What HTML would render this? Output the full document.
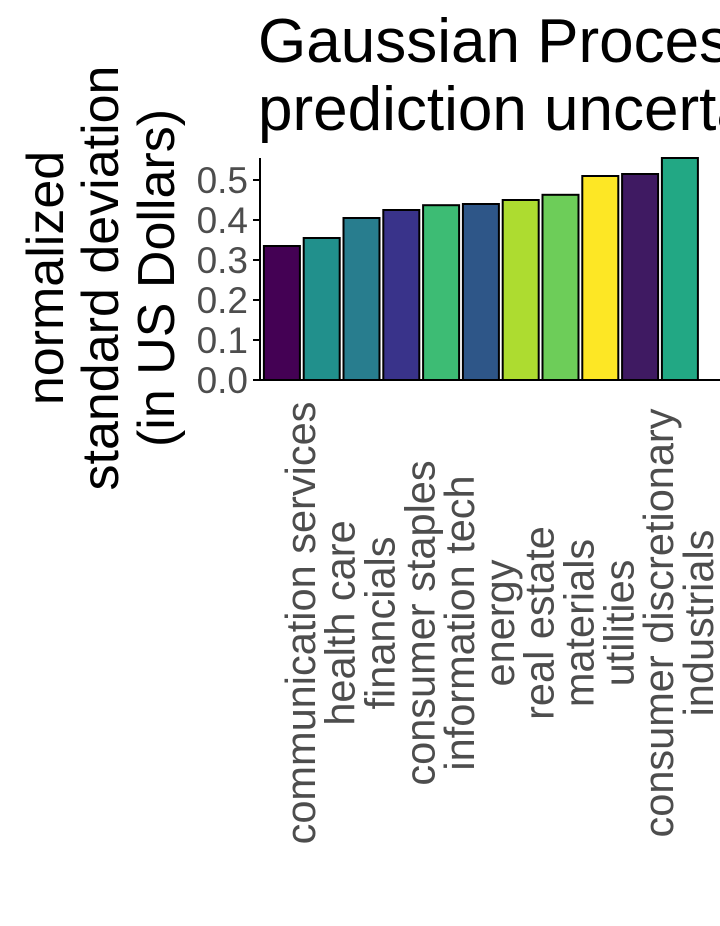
<!DOCTYPE html>
<html><head><meta charset="utf-8"><style>
body{margin:0;background:#fff;}
svg text{font-family:"Liberation Sans",Arial,sans-serif;}
</style></head><body>
<svg width="720" height="921" viewBox="0 0 720 921">
<text x="258" y="62" font-size="62" fill="#000">Gaussian Process</text>
<text x="258" y="130" font-size="62" fill="#000">prediction uncertainty</text>
<g transform="translate(100,278) rotate(-90)">
<text x="0" y="-37" font-size="52" text-anchor="middle" fill="#000">normalized</text>
<text x="0" y="18" font-size="52" text-anchor="middle" fill="#000">standard deviation</text>
<text x="0" y="74" font-size="52" text-anchor="middle" fill="#000">(in US Dollars)</text>
</g>
<g id="plot"></g>
</svg>
<script>
const categories=["communication services","health care","financials","consumer staples","information tech","energy","real estate","materials","utilities","consumer discretionary","industrials"];
const values=[0.335,0.355,0.405,0.425,0.437,0.44,0.45,0.463,0.51,0.515,0.555];
const colors=["#440154","#21908c","#287d8e","#39338a","#3dbc74","#2e5688","#addc30","#6dcd59","#fde725","#3f1a62","#22a884"];
const yTicks=[0,0.1,0.2,0.3,0.4,0.5];
const tickLabels=["0.0","0.1","0.2","0.3","0.4","0.5"];
const ns="http://www.w3.org/2000/svg";
const g=document.getElementById("plot");
const x0=262,step=39.8,bw=36,y0=380,k=400;
const X=i=>x0+step*i+step/2;
const Y=v=>y0-v*k;
function mk(t,a){const e=document.createElementNS(ns,t);for(const n in a)e.setAttribute(n,a[n]);g.appendChild(e);return e;}
values.forEach((v,i)=>{
 const r=mk("rect",{x:X(i)-bw/2,y:Y(v),width:bw,height:y0-Y(v),fill:colors[i],stroke:"#000","stroke-width":2});
 
 
 const t=mk("text",{transform:`translate(${X(i)+33},623) rotate(-90)`,"text-anchor":"middle","font-size":41.5,fill:"#4d4d4d"});
 t.textContent=categories[i];
 
 
});
yTicks.forEach((v,i)=>{
 const l=mk("line",{x1:253,x2:260,y1:Y(v),y2:Y(v),stroke:"#000","stroke-width":2});
 
 
 const t=mk("text",{x:248,y:Y(v)+13,"text-anchor":"end","font-size":37,fill:"#4d4d4d"});
 t.textContent=tickLabels[i];
 
 
});
const ya=mk("line",{x1:260,x2:260,y1:158,y2:381,stroke:"#000","stroke-width":2});


const xa=mk("line",{x1:259,x2:720,y1:380,y2:380,stroke:"#000","stroke-width":2});


</script>
</body></html>
